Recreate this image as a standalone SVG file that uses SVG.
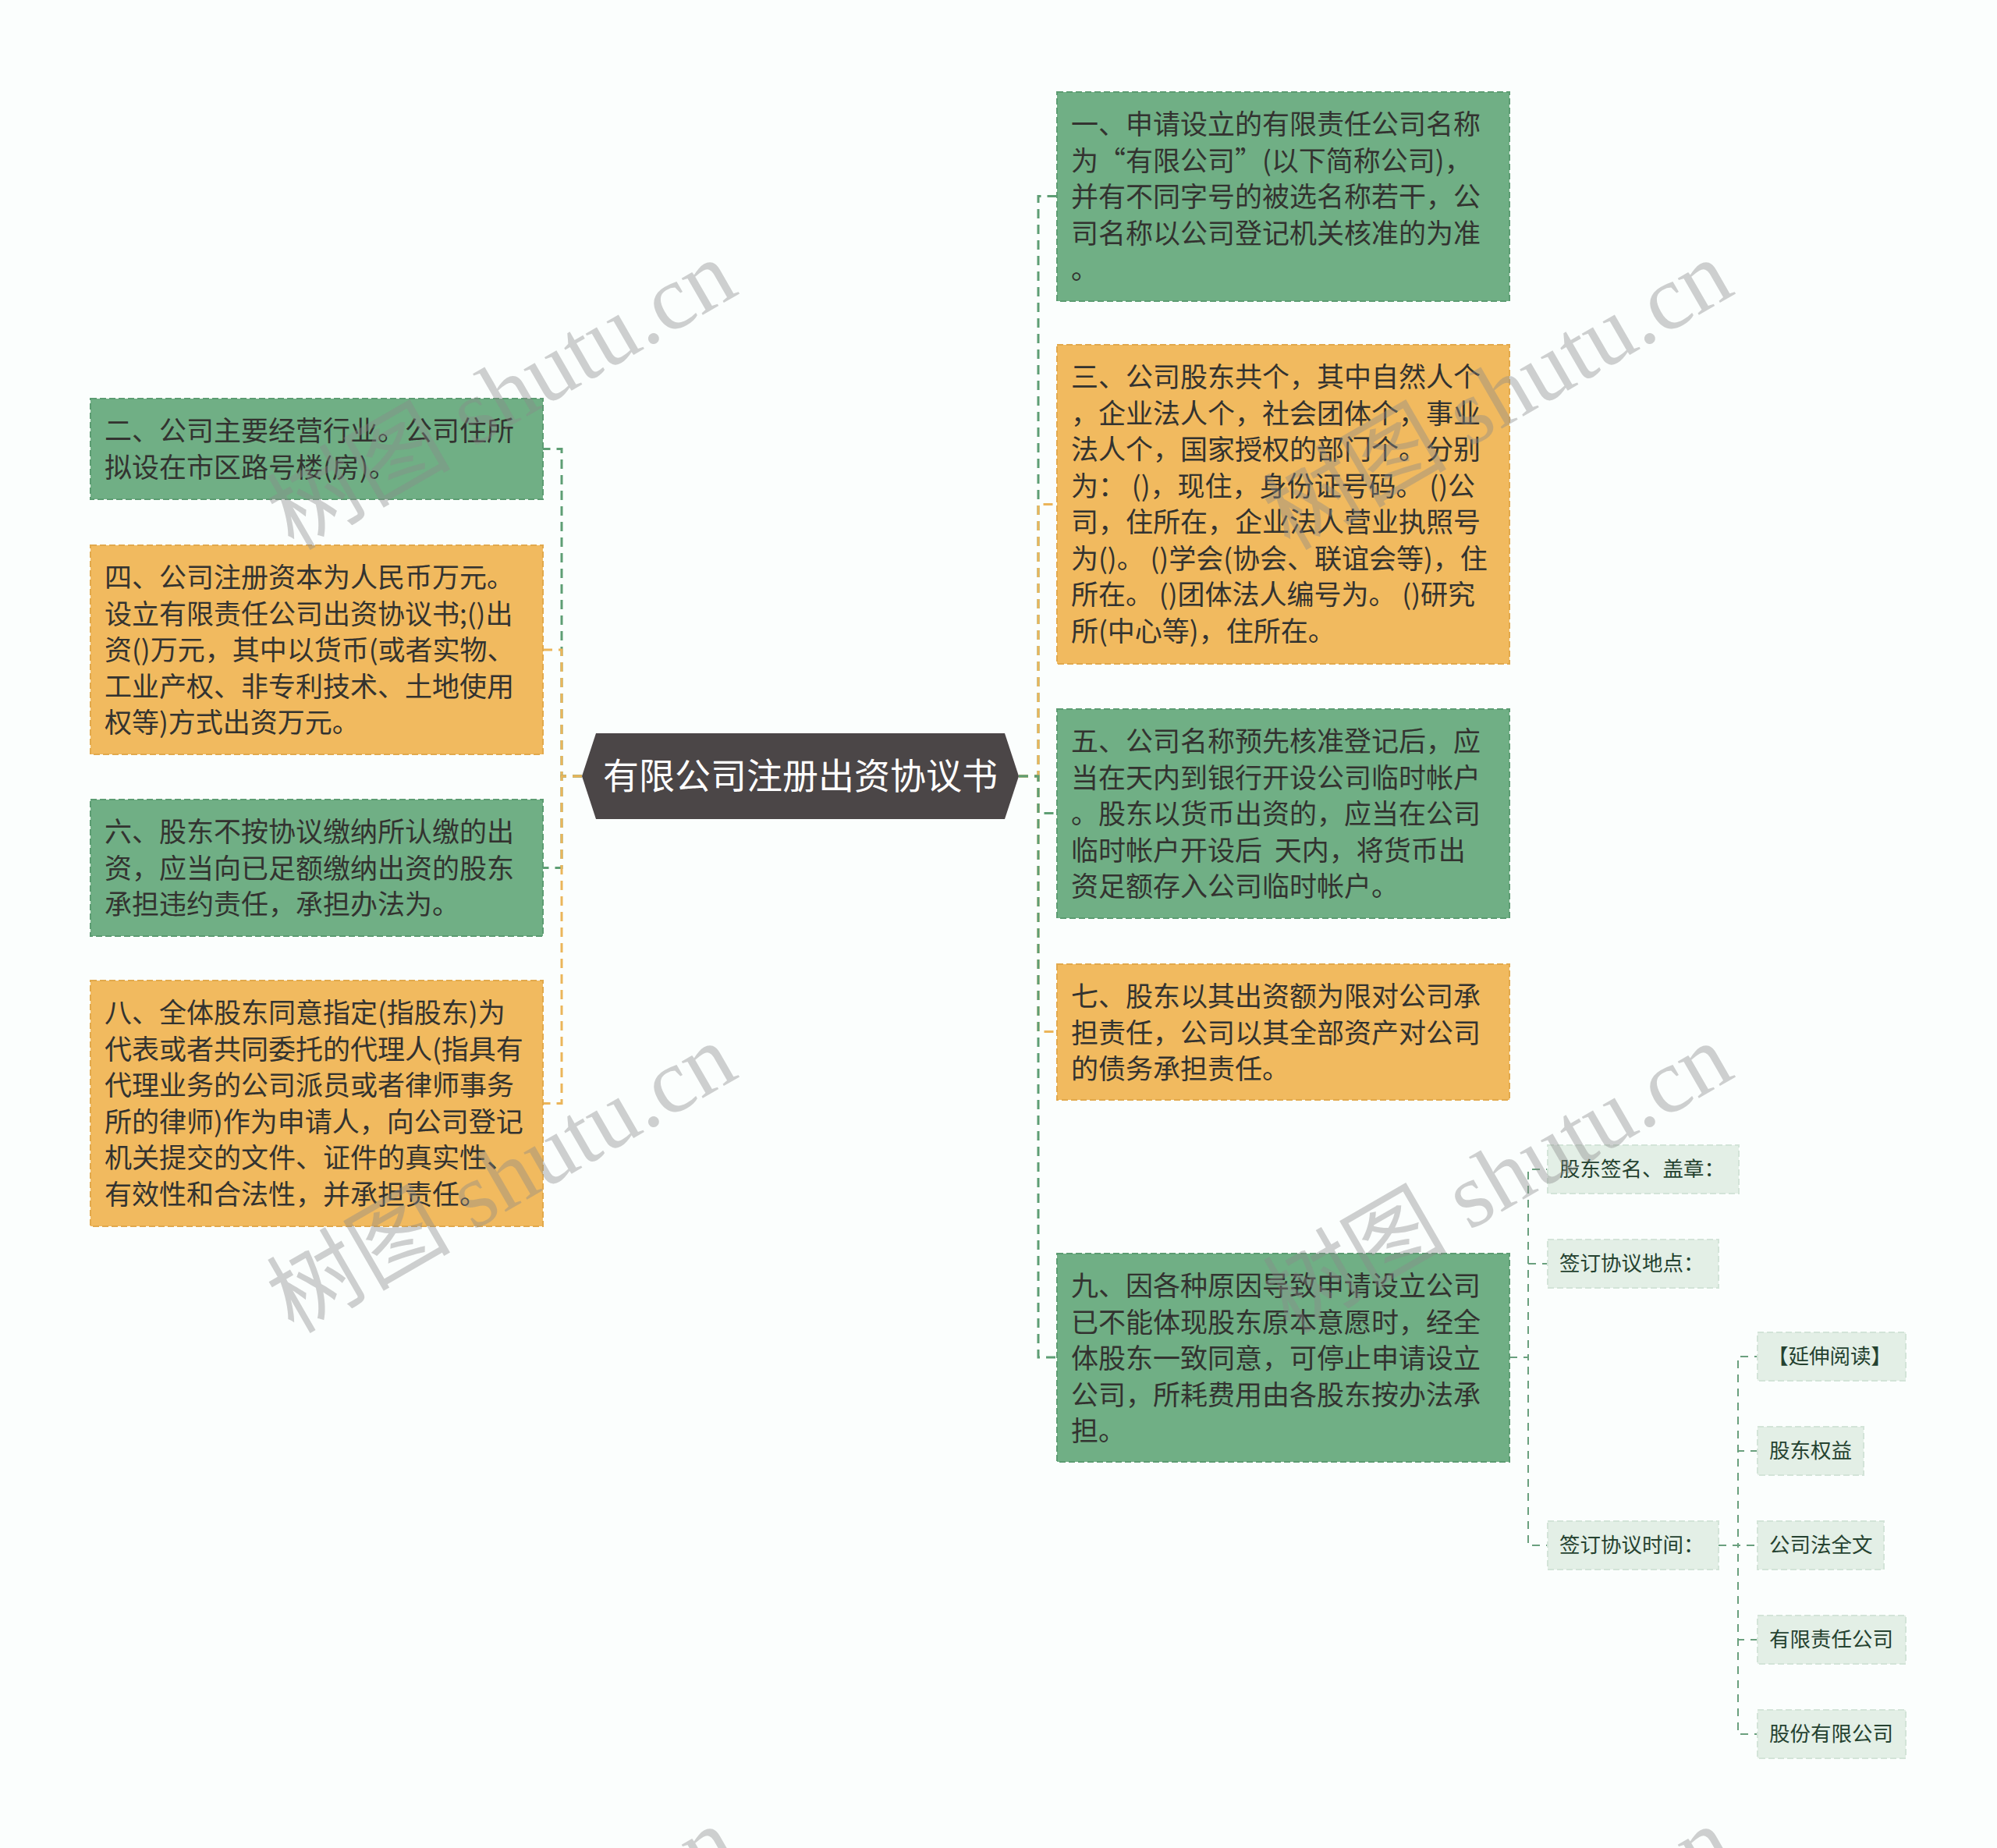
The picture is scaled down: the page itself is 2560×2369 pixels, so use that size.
<svg xmlns="http://www.w3.org/2000/svg" width="2560" height="2369" viewBox="0 0 2560 2369">
<style>
.bg{fill:#fbfefd}
.g{fill:#70af85;stroke:#5c9c72;stroke-width:2;stroke-dasharray:8 4}
.o{fill:#f1ba5f;stroke:#e2a94c;stroke-width:2;stroke-dasharray:8 4}
.s{fill:#e3efe6;stroke:#d3e4d8;stroke-width:2;stroke-dasharray:8 4}
.t{font-family:"Noto Sans CJK SC","Noto Sans",sans-serif;font-size:35px;fill:#333330}
.st{font-family:"Noto Sans CJK SC","Noto Sans",sans-serif;font-size:26.5px;fill:#254230}
.ct{font-family:"Noto Sans CJK SC","Noto Sans",sans-serif;font-size:46px;fill:#ffffff}
.cg{fill:none;stroke:#5e9e74;stroke-width:3;stroke-dasharray:12 8}
.co{fill:none;stroke:#ebb55a;stroke-width:3;stroke-dasharray:12 8}
.cs{fill:none;stroke:#6aa07e;stroke-width:2;stroke-dasharray:10 8}
.wm{font-family:"Liberation Serif","Noto Sans CJK SC",serif;font-size:118px;fill:#8a8a8a;fill-opacity:0.4}
</style>
<rect class="bg" x="0" y="0" width="2560" height="2369"/>

<g id="connectors">
  <path class="cg" d="M1306 995 H1331 V251.5 H1355"/>
  <path class="co" d="M1306 995 H1331 V646.5 H1355"/>
  <path class="cg" d="M1306 995 H1331 V1042.5 H1355"/>
  <path class="co" d="M1306 995 H1331 V1322.5 H1355"/>
  <path class="cg" d="M1306 995 H1331 V1740 H1355"/>
  <path class="cg" d="M746 995 H720 V575.5 H696"/>
  <path class="co" d="M746 995 H720 V833 H696"/>
  <path class="cg" d="M746 995 H720 V1112.5 H696"/>
  <path class="co" d="M746 995 H720 V1414.5 H696"/>
  <path class="cs" d="M1935 1740 H1959 V1499 H1984"/>
  <path class="cs" d="M1935 1740 H1959 V1620 H1984"/>
  <path class="cs" d="M1935 1740 H1959 V1981 H1984"/>
  <path class="cs" d="M2203 1981 H2228 V1739 H2253"/>
  <path class="cs" d="M2203 1981 H2228 V1860 H2253"/>
  <path class="cs" d="M2203 1981 H2228 V1981 H2253"/>
  <path class="cs" d="M2203 1981 H2228 V2102 H2253"/>
  <path class="cs" d="M2203 1981 H2228 V2223 H2253"/>
</g>

<g id="center">
  <path d="M746 995 L764 940 H1288 L1306 995 L1288 1050 H764 Z" fill="#4b4647"/>
  <text class="ct" x="1026" y="1011" text-anchor="middle">有限公司注册出资协议书</text>
</g>

<g id="n1">
  <rect class="g" x="1355" y="118" width="580" height="268"/>
  <text class="t" x="1373" y="172">
    <tspan x="1373" dy="0">一、申请设立的有限责任公司名称</tspan>
    <tspan x="1373" dy="46.5">为“有限公司”(以下简称公司)，</tspan>
    <tspan x="1373" dy="46.5">并有不同字号的被选名称若干，公</tspan>
    <tspan x="1373" dy="46.5">司名称以公司登记机关核准的为准</tspan>
    <tspan x="1373" dy="46.5">。</tspan>
  </text>
</g>

<g id="n3">
  <rect class="o" x="1355" y="442" width="580" height="409"/>
  <text class="t" x="1373" y="496">
    <tspan x="1373" dy="0">三、公司股东共个，其中自然人个</tspan>
    <tspan x="1373" dy="46.5">，企业法人个，社会团体个，事业</tspan>
    <tspan x="1373" dy="46.5">法人个，国家授权的部门个。分别</tspan>
    <tspan x="1373" dy="46.5">为：&#160;()，现住，身份证号码。&#160;()公</tspan>
    <tspan x="1373" dy="46.5">司，住所在，企业法人营业执照号</tspan>
    <tspan x="1373" dy="46.5">为()。&#160;()学会(协会、联谊会等)，住</tspan>
    <tspan x="1373" dy="46.5">所在。&#160;()团体法人编号为。&#160;()研究</tspan>
    <tspan x="1373" dy="46.5">所(中心等)，住所在。</tspan>
  </text>
</g>

<g id="n5">
  <rect class="g" x="1355" y="909" width="580" height="268"/>
  <text class="t" x="1373" y="963">
    <tspan x="1373" dy="0">五、公司名称预先核准登记后，应</tspan>
    <tspan x="1373" dy="46.5">当在天内到银行开设公司临时帐户</tspan>
    <tspan x="1373" dy="46.5">。股东以货币出资的，应当在公司</tspan>
    <tspan x="1373" dy="46.5">临时帐户开设后&#160;&#160;天内，将货币出</tspan>
    <tspan x="1373" dy="46.5">资足额存入公司临时帐户。</tspan>
  </text>
</g>

<g id="n7">
  <rect class="o" x="1355" y="1236" width="580" height="174"/>
  <text class="t" x="1373" y="1290">
    <tspan x="1373" dy="0">七、股东以其出资额为限对公司承</tspan>
    <tspan x="1373" dy="46.5">担责任，公司以其全部资产对公司</tspan>
    <tspan x="1373" dy="46.5">的债务承担责任。</tspan>
  </text>
</g>

<g id="n9">
  <rect class="g" x="1355" y="1607" width="580" height="267"/>
  <text class="t" x="1373" y="1661">
    <tspan x="1373" dy="0">九、因各种原因导致申请设立公司</tspan>
    <tspan x="1373" dy="46.5">已不能体现股东原本意愿时，经全</tspan>
    <tspan x="1373" dy="46.5">体股东一致同意，可停止申请设立</tspan>
    <tspan x="1373" dy="46.5">公司，所耗费用由各股东按办法承</tspan>
    <tspan x="1373" dy="46.5">担。</tspan>
  </text>
</g>

<g id="n2">
  <rect class="g" x="116" y="511" width="580" height="129"/>
  <text class="t" x="134" y="565">
    <tspan x="134" dy="0">二、公司主要经营行业。公司住所</tspan>
    <tspan x="134" dy="46.5">拟设在市区路号楼(房)。</tspan>
  </text>
</g>

<g id="n4">
  <rect class="o" x="116" y="699" width="580" height="268"/>
  <text class="t" x="134" y="753">
    <tspan x="134" dy="0">四、公司注册资本为人民币万元。</tspan>
    <tspan x="134" dy="46.5">设立有限责任公司出资协议书;()出</tspan>
    <tspan x="134" dy="46.5">资()万元，其中以货币(或者实物、</tspan>
    <tspan x="134" dy="46.5">工业产权、非专利技术、土地使用</tspan>
    <tspan x="134" dy="46.5">权等)方式出资万元。</tspan>
  </text>
</g>

<g id="n6">
  <rect class="g" x="116" y="1025" width="580" height="175"/>
  <text class="t" x="134" y="1079">
    <tspan x="134" dy="0">六、股东不按协议缴纳所认缴的出</tspan>
    <tspan x="134" dy="46.5">资，应当向已足额缴纳出资的股东</tspan>
    <tspan x="134" dy="46.5">承担违约责任，承担办法为。</tspan>
  </text>
</g>

<g id="n8">
  <rect class="o" x="116" y="1257" width="580" height="315"/>
  <text class="t" x="134" y="1311">
    <tspan x="134" dy="0">八、全体股东同意指定(指股东)为</tspan>
    <tspan x="134" dy="46.5">代表或者共同委托的代理人(指具有</tspan>
    <tspan x="134" dy="46.5">代理业务的公司派员或者律师事务</tspan>
    <tspan x="134" dy="46.5">所的律师)作为申请人，向公司登记</tspan>
    <tspan x="134" dy="46.5">机关提交的文件、证件的真实性、</tspan>
    <tspan x="134" dy="46.5">有效性和合法性，并承担责任。</tspan>
  </text>
</g>

<g id="s1"><rect class="s" x="1984" y="1468" width="245" height="62"/><text class="st" x="1999" y="1508">股东签名、盖章：</text></g>
<g id="s2"><rect class="s" x="1984" y="1589" width="219" height="62"/><text class="st" x="1999" y="1629">签订协议地点：</text></g>
<g id="s3"><rect class="s" x="1984" y="1950" width="219" height="62"/><text class="st" x="1999" y="1990">签订协议时间：</text></g>
<g id="s4"><rect class="s" x="2253" y="1708" width="190" height="62"/><text class="st" x="2266" y="1748">【延伸阅读】</text></g>
<g id="s5"><rect class="s" x="2253" y="1829" width="136" height="62"/><text class="st" x="2268" y="1869">股东权益</text></g>
<g id="s6"><rect class="s" x="2253" y="1950" width="162" height="62"/><text class="st" x="2268" y="1990">公司法全文</text></g>
<g id="s7"><rect class="s" x="2253" y="2071" width="190" height="62"/><text class="st" x="2268" y="2111">有限责任公司</text></g>
<g id="s8"><rect class="s" x="2253" y="2192" width="190" height="62"/><text class="st" x="2268" y="2232">股份有限公司</text></g>

<g id="watermarks">
  <text class="wm" text-anchor="middle" transform="translate(663 541) rotate(-30)">树图 shutu.cn</text>
  <text class="wm" text-anchor="middle" transform="translate(663 1545) rotate(-30)">树图 shutu.cn</text>
  <text class="wm" text-anchor="middle" transform="translate(1940 541) rotate(-30)">树图 shutu.cn</text>
  <text class="wm" text-anchor="middle" transform="translate(1940 1545) rotate(-30)">树图 shutu.cn</text>
  <text class="wm" text-anchor="middle" transform="translate(663 2549) rotate(-30)">树图 shutu.cn</text>
  <text class="wm" text-anchor="middle" transform="translate(1940 2549) rotate(-30)">树图 shutu.cn</text>
</g>
</svg>
